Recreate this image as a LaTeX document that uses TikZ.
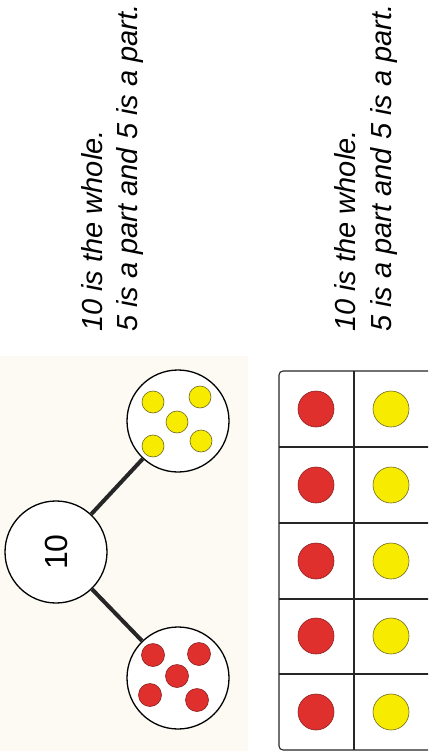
\documentclass[tikz,border=0pt]{standalone}
\usepackage{fontspec}
\setmainfont{Liberation Sans}
\definecolor{cream}{HTML}{FCFAF3}
\definecolor{dotred}{HTML}{E0302E}
\definecolor{dotredline}{HTML}{8A2020}
\definecolor{dotyel}{HTML}{F7EB00}
\definecolor{dotyelline}{HTML}{6E6A20}
\tikzset{
  txt/.style={rotate=90, anchor=base west, inner sep=0pt, font=\fontsize{29}{36}\selectfont\itshape},
  bigcirc/.style={circle, draw=black, line width=1.3pt, fill=white, minimum size=102pt, inner sep=0pt},
  link/.style={line width=4pt, draw=black!85},
  rdot/.style={circle, fill=dotred, draw=dotredline, line width=0.6pt, minimum size=#1, inner sep=0pt},
  ydot/.style={circle, fill=dotyel, draw=dotyelline, line width=0.6pt, minimum size=#1, inner sep=0pt},
  frameline/.style={draw=black!85, line width=1.1pt}
}
\begin{document}
\begin{tikzpicture}[x=1pt,y=1pt]
\useasboundingbox (0,0) rectangle (428,-751);
\clip (0,0) rectangle (428,-751);
\fill[white] (0,0) rectangle (428,-751);
\fill[cream] (0,-356) rectangle (248,-751);

% texts
\node[txt] (t1) at (102,-332) {10 is the whole.};
\node[txt] (t2) at (137,-332) {5 is a part and 5 is a part.};
\node[txt] (t3) at (355,-332) {10 is the whole.};
\node[txt] (t4) at (391,-332) {5 is a part and 5 is a part.};

% part-whole model
\node[bigcirc] (whole) at (56,-552) {};
\node[bigcirc] (py) at (178,-421) {};
\node[bigcirc] (pr) at (178,-678) {};
\draw[link] (whole) -- (py);
\draw[link] (whole) -- (pr);
\node[rotate=90, font=\fontsize{32}{32}\selectfont] (ten) at (56,-552) {10};

\node[ydot=22pt] (y1) at (153,-402) {};
\node[ydot=22pt] (y2) at (200,-397) {};
\node[ydot=22pt] (y3) at (177,-422) {};
\node[ydot=22pt] (y4) at (153,-446) {};
\node[ydot=22pt] (y5) at (201,-441) {};

\node[rdot=23pt] (r1) at (153,-655) {};
\node[rdot=23pt] (r2) at (199,-654) {};
\node[rdot=23pt] (r3) at (177,-676) {};
\node[rdot=23pt] (r4) at (150,-695) {};
\node[rdot=23pt] (r5) at (197,-700) {};

% ten frame
\draw[frameline, rounded corners=4pt, fill=white] (279,-371) rectangle (434,-750);
\draw[frameline] (354,-371) -- (354,-750);
\foreach \yy in {447,523,599,674} {
  \draw[frameline] (279,-\yy) -- (434,-\yy);
}
\foreach \i/\yy in {1/409,2/485,3/561,4/636,5/712} {
  \node[rdot=36pt] (fr\i) at (316,-\yy) {};
  \node[ydot=36pt] (fy\i) at (391,-\yy) {};
}
\end{tikzpicture}
\end{document}
